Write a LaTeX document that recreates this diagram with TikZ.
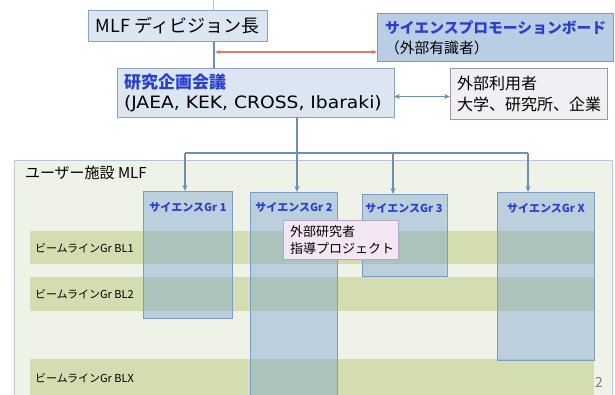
\documentclass[tikz,border=0pt]{standalone}
\usepackage{fontspec}
\setmainfont{Noto Sans CJK JP}
\newfontfamily\latinfont{DejaVu Sans}
\usetikzlibrary{arrows.meta}
\definecolor{boxfill}{HTML}{DCE6F2}
\definecolor{boxline}{HTML}{8EA4BE}
\definecolor{boardfill}{HTML}{B9CDE5}
\definecolor{boardline}{HTML}{7B9CC0}
\definecolor{userfill}{HTML}{F1EEF4}
\definecolor{userline}{HTML}{9A98A6}
\definecolor{outerfill}{HTML}{EFF2E6}
\definecolor{outerline}{HTML}{B8C8D8}
\definecolor{barfill}{HTML}{D3DDB0}
\definecolor{grfill}{HTML}{719CCD}
\definecolor{grline}{HTML}{7C9CC4}
\definecolor{pinkfill}{HTML}{F5E6F3}
\definecolor{pinkline}{HTML}{B4A8C8}
\definecolor{conn}{HTML}{6F8FB2}
\definecolor{redconn}{HTML}{E07A6A}
\definecolor{bluetext}{HTML}{2B3FCF}
\begin{document}
\begin{tikzpicture}[x=1pt,y=-1pt,
  every node/.style={inner sep=0pt,outer sep=0pt},
  lightbox/.style={draw=boxline,fill=boxfill,line width=0.8pt},
  grbox/.style={draw=grline,fill=grfill,fill opacity=0.4,line width=0.8pt},
  barbox/.style={fill=barfill},
  grlabel/.style={font=\fontsize{11}{13}\selectfont\bfseries,text=bluetext},
  bllabel/.style={font=\fontsize{11}{13}\selectfont,anchor=west},
  conline/.style={draw=conn,line width=1.4pt},
  contip/.style={-{Stealth[length=6pt,width=5pt]}},
]
\useasboundingbox (0,0) rectangle (615,394);
\clip (0,0) rectangle (615,394);

% outer facility box
\node[draw=outerline,fill=outerfill,line width=0.8pt,minimum width=598pt,minimum height=240pt,anchor=north west] (outer) at (14,160) {};
\node[anchor=west,font=\fontsize{15}{18}\selectfont] (outerlabel) at (25,173) {ユーザー施設 MLF};

% beamline bars
\node[barbox,minimum width=564pt,minimum height=33pt,anchor=north west] (bl1) at (30,231) {};
\node[barbox,minimum width=564pt,minimum height=34pt,anchor=north west] (bl2) at (30,277) {};
\node[barbox,minimum width=564pt,minimum height=41pt,anchor=north west] (blx) at (30,359) {};
\node[bllabel] (bl1t) at (35,248) {ビームラインGr BL1};
\node[bllabel] (bl2t) at (35,294) {ビームラインGr BL2};
\node[bllabel] (blxt) at (35,378) {ビームラインGr BLX};

% science groups
\node[grbox,minimum width=89pt,minimum height=127pt,anchor=north west] (gr1) at (143,191) {};
\node[grbox,minimum width=87pt,minimum height=210pt,anchor=north west] (gr2) at (250,192) {};
\node[grbox,minimum width=85pt,minimum height=82pt,anchor=north west] (gr3) at (362,194) {};
\node[grbox,minimum width=97pt,minimum height=168pt,anchor=north west] (grx) at (497,192) {};
\node[grlabel] (gr1t) at (188,207) {サイエンスGr 1};
\node[grlabel] (gr2t) at (294,207) {サイエンスGr 2};
\node[grlabel] (gr3t) at (404,208) {サイエンスGr 3};
\node[grlabel] (grxt) at (546,208) {サイエンスGr X};

% external researcher project
\node[draw=pinkline,fill=pinkfill,line width=0.8pt,minimum width=115pt,minimum height=39pt,anchor=north west] (pink) at (283,220) {};
\node[anchor=west,align=left,font=\fontsize{13}{17}\selectfont] (pinkt) at (290,240) {外部研究者\\指導プロジェクト};

% top boxes
\node[lightbox,minimum width=179pt,minimum height=31pt,font=\fontsize{18}{21}\selectfont] (mlf) at (177.5,25.5) {MLF ディビジョン長};
\node[draw=boardline,fill=boardfill,line width=0.8pt,minimum width=236pt,minimum height=48pt,anchor=north west] (board) at (377,13) {};
\node[anchor=west,align=left,font=\fontsize{14.8}{20}\selectfont] (boardt) at (385,38) {\textcolor{bluetext}{\bfseries サイエンスプロモーションボード}\\（外部有識者）};
\node[lightbox,minimum width=277pt,minimum height=49pt,anchor=north west] (kikaku) at (117,68) {};
\node[anchor=west,align=left,font=\fontsize{17}{20}\selectfont] (kikakut) at (124,93) {\textcolor{bluetext}{\bfseries 研究企画会議}\\\scalebox{1.1}[1]{\latinfont\fontsize{17}{20}\selectfont (JAEA, KEK, CROSS, Ibaraki)}};
\node[draw=userline,fill=userfill,line width=0.8pt,minimum width=157pt,minimum height=51pt,anchor=north west] (user) at (450,68) {};
\node[anchor=west,align=left,font=\fontsize{16}{21}\selectfont] (usert) at (457,93.5) {外部利用者\\大学、研究所、企業};

% connectors
\coordinate (topin) at (213,0);
\draw[gray!50,line width=0.8pt] (topin) -- (topin |- mlf.north);
\coordinate (v1) at (214,0);
\draw[conline] (v1 |- mlf.south) -- (v1 |- kikaku.north);
\coordinate (redstart) at (215,52);
\draw[draw=redconn,line width=1.2pt,{Stealth[length=5pt,width=4pt]}-{Stealth[length=5pt,width=4pt]}] (redstart) -- (redstart -| board.west);
\draw[conline,{Stealth[length=6pt,width=5pt]}-{Stealth[length=6pt,width=5pt]}] ([yshift=-4pt]kikaku.east) -- ([yshift=-4pt]kikaku.east -| user.west);
\coordinate (b1) at (185,153);
\coordinate (b2) at (297,153);
\coordinate (b3) at (393,153);
\coordinate (b4) at (528,153);
\draw[conline] (b2 |- kikaku.south) -- (b2);
\draw[conline] (b1) -- (b4);
\draw[conline,contip] (b1) -- (b1 |- gr1.north);
\draw[conline,contip] (b2) -- (b2 |- gr2.north);
\draw[conline,contip] (b3) -- (b3 |- gr3.north);
\draw[conline,contip] (b4) -- (b4 |- grx.north);

% page number
\node[text=gray,font=\fontsize{14}{16}\selectfont] (pagenum) at (599,382) {2};
\end{tikzpicture}
\end{document}
